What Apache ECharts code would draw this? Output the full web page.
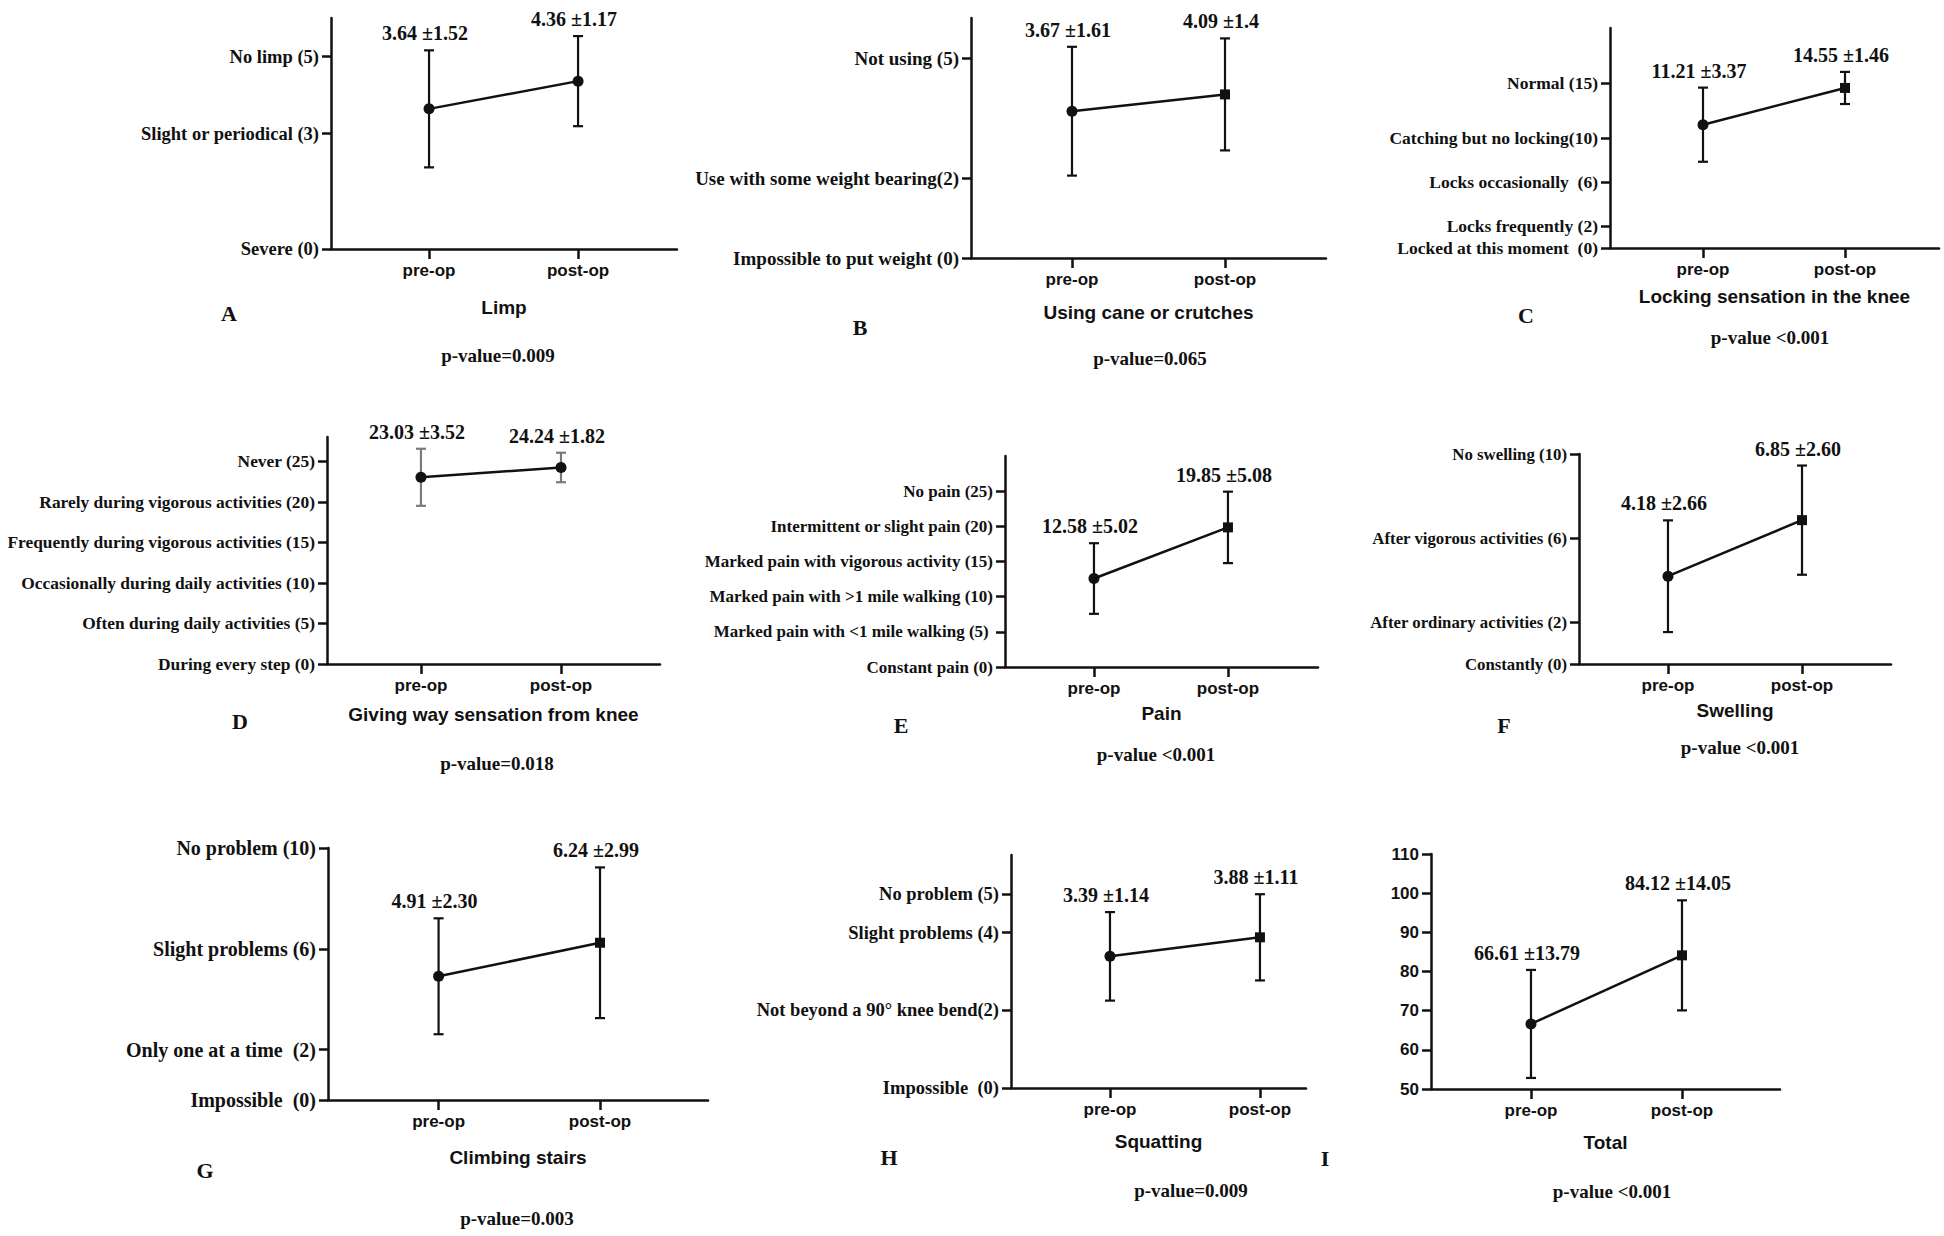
<!DOCTYPE html>
<html><head><meta charset="utf-8">
<script src="https://cdn.jsdelivr.net/npm/echarts@6/dist/echarts.min.js"></script>
<style>html,body{margin:0;padding:0;background:#fff}#c{width:1944px;height:1236px}</style>
</head><body><div id="c"></div>
<script>
// ---------- DATA ----------
const categories = ['pre-op', 'post-op'];

// A - Limp
const limpMean = [3.64, 4.36];
const limpSD = [1.52, 1.17];
const limpLabels = ['3.64 ±1.52', '4.36 ±1.17'];
const limpTicks = [0, 3, 5];
const limpTickLabels = ['Severe (0)', 'Slight or periodical (3)', 'No limp (5)'];

// B - Using cane or crutches
const caneMean = [3.67, 4.09];
const caneSD = [1.61, 1.4];
const caneLabels = ['3.67 ±1.61', '4.09 ±1.4'];
const caneTicks = [0, 2, 5];
const caneTickLabels = ['Impossible to put weight (0)', 'Use with some weight bearing(2)', 'Not using (5)'];

// C - Locking sensation in the knee
const lockMean = [11.21, 14.55];
const lockSD = [3.37, 1.46];
const lockLabels = ['11.21 ±3.37', '14.55 ±1.46'];
const lockTicks = [0, 2, 6, 10, 15];
const lockTickLabels = ['Locked at this moment  (0)', 'Locks frequently (2)', 'Locks occasionally  (6)', 'Catching but no locking(10)', 'Normal (15)'];

// D - Giving way sensation from knee
const givingMean = [23.03, 24.24];
const givingSD = [3.52, 1.82];
const givingLabels = ['23.03 ±3.52', '24.24 ±1.82'];
const givingTicks = [0, 5, 10, 15, 20, 25];
const givingTickLabels = ['During every step (0)', 'Often during daily activities (5)', 'Occasionally during daily activities (10)', 'Frequently during vigorous activities (15)', 'Rarely during vigorous activities (20)', 'Never (25)'];

// E - Pain
const painMean = [12.58, 19.85];
const painSD = [5.02, 5.08];
const painLabels = ['12.58 ±5.02', '19.85 ±5.08'];
const painTicks = [0, 5, 10, 15, 20, 25];
const painTickLabels = ['Constant pain (0)', 'Marked pain with <1 mile walking (5) ', 'Marked pain with >1 mile walking (10)', 'Marked pain with vigorous activity (15)', 'Intermittent or slight pain (20)', 'No pain (25)'];

// F - Swelling
const swellMean = [4.18, 6.85];
const swellSD = [2.66, 2.60];
const swellLabels = ['4.18 ±2.66', '6.85 ±2.60'];
const swellTicks = [0, 2, 6, 10];
const swellTickLabels = ['Constantly (0)', 'After ordinary activities (2)', 'After vigorous activities (6)', 'No swelling (10)'];

// G - Climbing stairs
const stairsMean = [4.91, 6.24];
const stairsSD = [2.30, 2.99];
const stairsLabels = ['4.91 ±2.30', '6.24 ±2.99'];
const stairsTicks = [0, 2, 6, 10];
const stairsTickLabels = ['Impossible  (0)', 'Only one at a time  (2)', 'Slight problems (6)', 'No problem (10)'];

// H - Squatting
const squatMean = [3.39, 3.88];
const squatSD = [1.14, 1.11];
const squatLabels = ['3.39 ±1.14', '3.88 ±1.11'];
const squatTicks = [0, 2, 4, 5];
const squatTickLabels = ['Impossible  (0)', 'Not beyond a 90° knee bend(2)', 'Slight problems (4)', 'No problem (5)'];

// I - Total
const totalMean = [66.61, 84.12];
const totalSD = [13.79, 14.05];
const totalLabels = ['66.61 ±13.79', '84.12 ±14.05'];
const totalTicks = [50, 60, 70, 80, 90, 100, 110];
const totalTickLabels = ['50', '60', '70', '80', '90', '100', '110'];

const axisNames = ['Limp', 'Using cane or crutches', 'Locking sensation in the knee', 'Giving way sensation from knee', 'Pain', 'Swelling', 'Climbing stairs', 'Squatting', 'Total'];
const panelLetters = ['A', 'B', 'C', 'D', 'E', 'F', 'G', 'H', 'I'];
const pValues = ['p-value=0.009', 'p-value=0.065', 'p-value <0.001', 'p-value=0.018', 'p-value <0.001', 'p-value <0.001', 'p-value=0.003', 'p-value=0.009', 'p-value <0.001'];

// ---------- LAYOUT / STYLE ----------
const panels = [
  {mean: limpMean, sd: limpSD, lab: limpLabels, ticks: limpTicks, tl: limpTickLabels, post: 'circle',
   l: 331, r: 677, t: 18, b: 249, xmin: 0.342, xmax: 2.664, ymin: 0, ymax: 6, gap: 58, letter: [229, 313], p: [498, 355], yf: 18.5},
  {mean: caneMean, sd: caneSD, lab: caneLabels, ticks: caneTicks, tl: caneTickLabels, post: 'rect',
   l: 971, r: 1326, t: 18, b: 258, xmin: 0.340, xmax: 2.660, ymin: 0, ymax: 6, gap: 54, letter: [860, 327], p: [1150, 358], yf: 19},
  {mean: lockMean, sd: lockSD, lab: lockLabels, ticks: lockTicks, tl: lockTickLabels, post: 'rect',
   l: 1610, r: 1939, t: 28, b: 248, xmin: 0.345, xmax: 2.662, ymin: 0, ymax: 20, gap: 48, letter: [1526, 315], p: [1770, 337], yf: 17.5},
  {mean: givingMean, sd: givingSD, lab: givingLabels, ticks: givingTicks, tl: givingTickLabels, post: 'circle', ebColor: '#7a7a7a',
   l: 327, r: 660, t: 437, b: 664, xmin: 0.329, xmax: 2.707, ymin: 0, ymax: 28, gap: 50, letter: [240, 721], p: [497, 763], yf: 17.4},
  {mean: painMean, sd: painSD, lab: painLabels, ticks: painTicks, tl: painTickLabels, post: 'rect',
   l: 1005, r: 1318, t: 456, b: 667, xmin: 0.336, xmax: 2.672, ymin: 0, ymax: 30, gap: 46, letter: [901, 725], p: [1156, 754], yf: 17},
  {mean: swellMean, sd: swellSD, lab: swellLabels, ticks: swellTicks, tl: swellTickLabels, post: 'rect',
   l: 1579, r: 1891, t: 454, b: 664, xmin: 0.336, xmax: 2.664, ymin: 0, ymax: 10, gap: 46, letter: [1504, 725], p: [1740, 747], yf: 16.8},
  {mean: stairsMean, sd: stairsSD, lab: stairsLabels, ticks: stairsTicks, tl: stairsTickLabels, post: 'rect',
   l: 328, r: 708, t: 848, b: 1100, xmin: 0.315, xmax: 2.669, ymin: 0, ymax: 10, gap: 57, letter: [205, 1170], p: [517, 1218], yf: 20},
  {mean: squatMean, sd: squatSD, lab: squatLabels, ticks: squatTicks, tl: squatTickLabels, post: 'rect',
   l: 1011, r: 1306, t: 855, b: 1088, xmin: 0.34, xmax: 2.307, ymin: 0, ymax: 6, gap: 53, letter: [889, 1157], p: [1191, 1190], yf: 18.5},
  {mean: totalMean, sd: totalSD, lab: totalLabels, ticks: totalTicks, tl: totalTickLabels, post: 'rect', sansY: true,
   l: 1431, r: 1780, t: 854, b: 1089, xmin: 0.338, xmax: 2.649, ymin: 50, ymax: 110, gap: 53, letter: [1325, 1158], p: [1612, 1191], yf: 17}
];

const INK = '#111';
const SERIF = '"Liberation Serif", "Times New Roman", serif';
const SANS = '"Liberation Sans", Arial, sans-serif';
const xPos = [1, 2];

const grid = [], xAxis = [], yAxis = [], series = [], graphic = [];

panels.forEach((P, i) => {
  grid.push({left: P.l, top: P.t, width: P.r - P.l, height: P.b - P.t, outerBoundsMode: 'none', containLabel: false});
  xAxis.push({
    type: 'value', gridIndex: i, min: P.xmin, max: P.xmax,
    axisLine: {show: true, onZero: false, lineStyle: {color: INK, width: 2.5}},
    axisTick: {show: true, customValues: xPos, length: 10, lineStyle: {color: INK, width: 2.5}},
    axisLabel: {customValues: xPos, formatter: v => categories[xPos.indexOf(v)] || '', margin: 13,
      color: INK, fontFamily: SANS, fontWeight: 'bold', fontSize: 17},
    splitLine: {show: false},
    name: axisNames[i], nameLocation: 'middle', nameGap: P.gap,
    nameTextStyle: {verticalAlign: 'middle', color: INK, fontFamily: SANS, fontWeight: 'bold', fontSize: 19}
  });
  yAxis.push({
    type: 'value', gridIndex: i, min: P.ymin, max: P.ymax,
    axisLine: {show: true, onZero: false, lineStyle: {color: INK, width: 2.5}},
    axisTick: {show: true, customValues: P.ticks, length: 9, lineStyle: {color: INK, width: 2.5}},
    axisLabel: {customValues: P.ticks, formatter: v => P.tl[P.ticks.indexOf(v)], margin: 12, color: INK,
      fontFamily: P.sansY ? SANS : SERIF, fontWeight: 'bold', fontSize: P.yf},
    splitLine: {show: false}
  });
  const eb = P.ebColor || INK;
  series.push({
    type: 'custom', xAxisIndex: i, yAxisIndex: i, z: 2, clip: false,
    data: xPos.map((x, k) => [x, P.mean[k], P.sd[k]]),
    encode: {x: 0, y: 1},
    renderItem: (params, api) => {
      const x = api.value(0), m = api.value(1), s = api.value(2);
      const top = api.coord([x, m + s]), bot = api.coord([x, m - s]);
      const cw = 5;
      const ls = {stroke: eb, lineWidth: 2.2};
      return {type: 'group', children: [
        {type: 'line', shape: {x1: top[0], y1: top[1], x2: bot[0], y2: bot[1]}, style: ls},
        {type: 'line', shape: {x1: top[0] - cw, y1: top[1], x2: top[0] + cw, y2: top[1]}, style: ls},
        {type: 'line', shape: {x1: bot[0] - cw, y1: bot[1], x2: bot[0] + cw, y2: bot[1]}, style: ls},
        {type: 'text', style: {text: P.lab[params.dataIndex], x: top[0] - 4, y: top[1] - 7,
          align: 'center', verticalAlign: 'bottom', fontFamily: SERIF, fontWeight: 'bold', fontSize: 20, fill: INK}}
      ]};
    }
  });
  series.push({
    type: 'line', xAxisIndex: i, yAxisIndex: i, z: 3,
    data: xPos.map((x, k) => ({value: [x, P.mean[k]], symbol: k === 0 ? 'circle' : P.post, symbolSize: k === 0 ? 11 : (P.post === 'rect' ? 10 : 11)})),
    lineStyle: {color: INK, width: 2.5}, itemStyle: {color: INK}, animation: false
  });
  graphic.push({type: 'text', style: {text: panelLetters[i], x: P.letter[0], y: P.letter[1], align: 'center', verticalAlign: 'middle',
    fontFamily: SERIF, fontWeight: 'bold', fontSize: 22, fill: INK}});
  graphic.push({type: 'text', style: {text: pValues[i], x: P.p[0], y: P.p[1], align: 'center', verticalAlign: 'middle',
    fontFamily: SERIF, fontWeight: 'bold', fontSize: 19, fill: INK}});
});

const chart = echarts.init(document.getElementById('c'), null, {renderer: 'svg'});
chart.setOption({backgroundColor: '#fff', animation: false, grid, xAxis, yAxis, series, graphic});
</script></body></html>
